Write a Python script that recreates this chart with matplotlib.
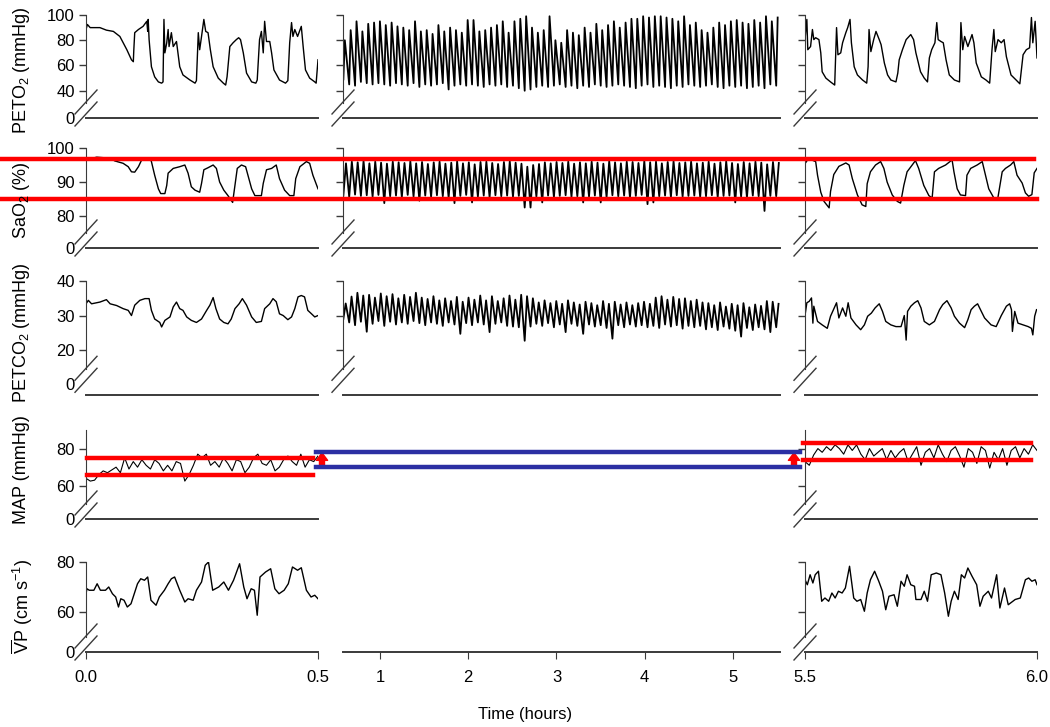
import numpy as np
import matplotlib.pyplot as plt
from matplotlib import transforms
from matplotlib.lines import Line2D
from matplotlib.patches import FancyArrowPatch

plt.rcParams['font.family'] = ['Liberation Sans', 'DejaVu Sans']
plt.rcParams['mathtext.default'] = 'regular'

# ---------------- data (hours, units) ----------------
peto2_left_t = [0.000, 0.003, 0.009, 0.030, 0.044, 0.059, 0.073, 0.088, 0.098, 0.102, 0.103, 0.105, 0.113,
                0.123, 0.131, 0.133, 0.134, 0.136, 0.141, 0.148, 0.156, 0.163, 0.166, 0.168, 0.170, 0.174,
                0.177, 0.179, 0.184, 0.188, 0.195, 0.202, 0.209, 0.224, 0.235, 0.238, 0.242, 0.245, 0.249,
                0.254, 0.258, 0.263, 0.268, 0.274, 0.285, 0.296, 0.301, 0.304, 0.310, 0.317, 0.324, 0.329,
                0.333, 0.339, 0.346, 0.357, 0.366, 0.369, 0.374, 0.378, 0.382, 0.385, 0.389, 0.396, 0.400,
                0.405, 0.417, 0.430, 0.435, 0.439, 0.443, 0.446, 0.450, 0.456, 0.464, 0.468, 0.473, 0.482,
                0.493, 0.496, 0.500]
peto2_left_v = [88.5, 92.5, 90, 90, 88, 87, 83, 72.5, 64.5, 63, 72, 86, 88.5,
                91, 95, 87, 96.5, 80.5, 59, 51, 47, 46, 47, 96.5, 70, 78,
                88.5, 75, 86, 75, 79, 59, 52.5, 48.5, 46, 48, 86, 72.5, 83,
                96.5, 87, 86, 72.5, 59, 50, 46, 44.5, 51, 75, 78, 80.5, 82,
                80.5, 70, 54, 47, 46, 48.5, 80.5, 87, 70, 95, 79, 79, 70,
                56.5, 48.5, 46, 48, 78, 94, 83, 88.5, 83, 91, 75, 56.5, 50,
                47, 46, 64.5]

peto2_right_t = [5.500, 5.504, 5.506, 5.512, 5.516, 5.519, 5.523, 5.530, 5.534, 5.537, 5.545, 5.555, 5.564,
                 5.566, 5.568, 5.571, 5.577, 5.581, 5.588, 5.592, 5.597, 5.600, 5.606, 5.613, 5.624, 5.633,
                 5.636, 5.638, 5.642, 5.648, 5.653, 5.660, 5.664, 5.671, 5.678, 5.685, 5.696, 5.700, 5.703,
                 5.710, 5.718, 5.728, 5.734, 5.739, 5.749, 5.757, 5.764, 5.768, 5.773, 5.780, 5.784, 5.787,
                 5.793, 5.798, 5.804, 5.811, 5.822, 5.833, 5.836, 5.840, 5.844, 5.851, 5.860, 5.864, 5.869,
                 5.880, 5.890, 5.898, 5.903, 5.907, 5.910, 5.916, 5.923, 5.929, 5.934, 5.944, 5.955, 5.963,
                 5.970, 5.977, 5.984, 5.988, 5.991, 5.996, 6.000]
peto2_right_v = [80.5, 96.5, 72.5, 75, 88.5, 80.5, 82, 80.5, 70, 55, 50, 47, 44.5,
                 67, 90, 68.5, 70, 78, 86, 90, 96.5, 78, 59, 52.5, 48.5, 46,
                 59, 88.5, 71, 80.5, 87, 80.5, 76.5, 62, 52.5, 48.5, 47, 54, 64.5,
                 72.5, 80.5, 84.5, 80.5, 70, 55, 50, 47, 66, 72.5, 78, 94, 80.5,
                 79, 78, 64.5, 52.5, 48.5, 47, 94, 72.5, 83, 75, 84.5, 78, 62,
                 51, 48.5, 46, 72.5, 88.5, 71, 80.5, 78, 80.5, 67, 52.5, 48.5, 45.5,
                 68.5, 72.5, 74, 98, 78, 95, 66]

# middle section: cycle troughs / peaks
peto2_mid_hi = [80, 88, 95, 87, 93, 94, 95, 92, 94, 91,
                90, 88, 95, 87, 88, 85, 92, 87, 90, 88,
                86, 96, 96, 87, 88, 90, 92, 95, 86, 95,
                97, 99, 90, 86, 88, 99, 80, 78, 88, 86,
                84, 90, 86, 93, 88, 92, 95, 90, 94, 97,
                97, 99, 98, 99, 99, 98, 97, 95, 99, 92,
                94, 88, 86, 90, 94, 92, 95, 96, 94, 93,
                96, 94, 99, 95, 98]
peto2_mid_lo = [49, 45, 44, 47, 46, 45, 46, 45, 44, 46,
                45, 44, 46, 43, 45, 44, 45, 46, 41, 44,
                45, 44, 45, 44, 43, 45, 44, 45, 43, 44,
                42, 40, 41, 43, 44, 43, 44, 45, 43, 44,
                42, 44, 43, 45, 44, 43, 44, 45, 44, 43,
                42, 44, 45, 43, 44, 43, 42, 44, 43, 45,
                44, 43, 44, 45, 43, 42, 44, 43, 44, 42,
                43, 44, 42, 45, 44]

sao2_left_t = [0.000, 0.023, 0.052, 0.062, 0.080, 0.091, 0.098, 0.105, 0.113, 0.120, 0.131, 0.138, 0.141,
               0.148, 0.156, 0.161, 0.170, 0.174, 0.177, 0.188, 0.202, 0.213, 0.220, 0.227, 0.235, 0.245,
               0.249, 0.254, 0.263, 0.274, 0.281, 0.288, 0.297, 0.306, 0.316, 0.321, 0.326, 0.335, 0.344,
               0.349, 0.357, 0.364, 0.378, 0.382, 0.389, 0.400, 0.410, 0.417, 0.428, 0.439, 0.448, 0.452,
               0.461, 0.475, 0.482, 0.489, 0.500]
sao2_left_v = [96.5, 97.3, 97, 96.2, 95.5, 94.5, 93, 92.9, 94.5, 96.5, 96.5, 97, 96,
               92, 88, 86.6, 86.6, 89, 92.6, 94, 94.5, 95, 92.6, 88.6, 87.6, 87,
               89.6, 93.6, 94.2, 95, 94, 90, 87.6, 86, 84, 89, 94, 95, 94.5,
               92, 88, 86, 86, 89.6, 93.6, 94, 95, 91, 87.6, 86, 86, 91,
               94.5, 96, 95.5, 92, 88]

sao2_right_t = [5.500, 5.505, 5.516, 5.523, 5.527, 5.534, 5.541, 5.552, 5.555, 5.562, 5.573, 5.588, 5.595,
                5.602, 5.613, 5.623, 5.631, 5.634, 5.641, 5.652, 5.663, 5.670, 5.677, 5.688, 5.699, 5.706,
                5.713, 5.720, 5.731, 5.738, 5.745, 5.756, 5.767, 5.774, 5.779, 5.788, 5.803, 5.817, 5.821,
                5.828, 5.835, 5.846, 5.849, 5.857, 5.871, 5.882, 5.889, 5.896, 5.907, 5.915, 5.925, 5.932,
                5.943, 5.950, 5.957, 5.968, 5.975, 5.982, 5.989, 5.994, 6.000]
sao2_right_v = [95.4, 96.4, 96.4, 96, 92, 87, 84.3, 82.4, 87.2, 92.2, 94.6, 95.6, 95,
                91, 86.2, 83.3, 82.8, 89.5, 93, 95, 96, 94, 90, 86.2, 84.3, 83.8,
                89, 93, 95, 96.3, 94, 89, 86, 85.3, 93, 94, 95, 96.5, 93,
                88, 86.2, 86, 92, 94, 95, 96, 92, 88, 85.3, 84.8, 93, 94,
                95, 96, 92, 89.7, 86.8, 85.8, 86.3, 92.7, 94]

sao2_mid_hi = [95.5, 96.0, 95.8, 96.2, 95.5, 96.0, 95.7, 95.4, 96.0, 95.8,
               95.6, 96.1, 95.5, 95.9, 95.3, 95.8, 96.0, 95.4, 95.7, 96.1,
               95.5, 95.8, 95.2, 95.9, 96.0, 95.6, 95.3, 95.9, 96.1, 95.7,
               95.4, 94.5, 95.0, 95.3, 95.8, 95.5, 95.9, 95.6, 96.0, 95.4,
               95.8, 95.5, 96.0, 95.7, 95.4, 96.1, 95.8, 95.5, 96.0, 95.9,
               95.6, 96.2, 95.8, 96.0, 95.5, 95.9, 96.1, 95.6, 95.8, 96.0,
               95.5, 95.7, 96.0, 95.4, 95.8, 96.1, 95.6, 95.3, 95.9, 95.5,
               96.0, 95.7, 95.2, 95.9, 95.6]
sao2_mid_lo = [86.0, 85.6, 86.3, 85.9, 86.1, 85.7, 86.2, 83.8, 85.8, 86.0,
               85.5, 86.2, 85.7, 84.5, 86.0, 85.6, 86.1, 85.8, 85.4, 83.8,
               85.9, 86.2, 84.0, 85.7, 86.0, 85.5, 86.1, 85.8, 86.0, 85.6,
               85.9, 82.5, 82.5, 85.7, 84.0, 86.0, 85.5, 85.9, 86.1, 85.6,
               85.8, 84.0, 85.7, 86.0, 84.0, 85.5, 86.1, 85.8, 86.0, 85.4,
               85.9, 86.2, 83.5, 84.0, 85.8, 86.0, 85.5, 86.1, 85.7, 85.9,
               86.0, 85.6, 85.8, 86.1, 85.5, 85.9, 86.0, 84.0, 85.7, 85.4,
               86.0, 85.8, 81.5, 85.9, 85.8]

petco2_left_t = [0.000, 0.005, 0.012, 0.030, 0.044, 0.052, 0.066, 0.080, 0.091, 0.098, 0.105, 0.116, 0.127,
                 0.136, 0.141, 0.148, 0.159, 0.163, 0.170, 0.181, 0.188, 0.195, 0.202, 0.209, 0.217, 0.227,
                 0.238, 0.249, 0.260, 0.267, 0.274, 0.280, 0.288, 0.297, 0.306, 0.313, 0.321, 0.330, 0.337,
                 0.346, 0.357, 0.367, 0.378, 0.385, 0.396, 0.403, 0.410, 0.417, 0.425, 0.435, 0.443, 0.450,
                 0.457, 0.464, 0.471, 0.478, 0.486, 0.493, 0.500]
petco2_left_v = [33.4, 34.4, 33.4, 33.9, 34.6, 33.4, 32.9, 32, 31.5, 30, 33, 34.4, 34.9,
                 34.9, 31.5, 29, 28, 26.7, 28.6, 29.6, 32.5, 33.9, 32, 31.5, 29.6, 28.6,
                 28, 29, 31.5, 33, 35.2, 32, 29, 28, 27.6, 29, 32, 33.4, 34.9,
                 33, 29.6, 28, 28.3, 32, 33.4, 34.9, 34, 30.5, 30, 28.8, 29.6, 32,
                 35.4, 35.8, 35.4, 31.5, 30.5, 29.6, 30]

petco2_right_t = [5.500, 5.504, 5.509, 5.514, 5.517, 5.519, 5.527, 5.537, 5.548, 5.555, 5.563, 5.568, 5.573,
                  5.581, 5.588, 5.593, 5.599, 5.610, 5.620, 5.628, 5.635, 5.643, 5.651, 5.660, 5.667, 5.674,
                  5.685, 5.696, 5.707, 5.714, 5.718, 5.721, 5.728, 5.736, 5.743, 5.750, 5.757, 5.768, 5.779,
                  5.790, 5.797, 5.806, 5.815, 5.822, 5.833, 5.844, 5.851, 5.858, 5.865, 5.872, 5.880, 5.887,
                  5.901, 5.912, 5.923, 5.934, 5.941, 5.945, 5.947, 5.952, 5.959, 5.970, 5.981, 5.988, 5.991,
                  5.995, 5.999]
petco2_right_v = [30, 33.7, 34.1, 35.1, 27.8, 32.7, 28.3, 27.3, 26.3, 29.8, 32.2, 33.7, 29.3,
                  32.2, 29.8, 33.7, 29.3, 27.3, 25.9, 27.3, 29.8, 30.7, 32.2, 33.4, 31.2, 28.3,
                  27.3, 26.8, 26.8, 30, 22.9, 31.2, 32.7, 33.7, 34.3, 32.2, 28.3, 27.3, 28.3,
                  31.7, 33.2, 34.3, 32.2, 29.8, 27.8, 26.5, 28.8, 31.7, 32.7, 33.4, 31.2, 29.3,
                  27.3, 26.8, 30, 32.7, 33.4, 31.7, 25.4, 31.2, 27.8, 27.3, 26.8, 26.3, 24.4,
                  29.8, 31.7]

petco2_mid_hi = [33.5, 35.5, 36.6, 35.8, 36.0, 35.2, 36.4, 35.6, 36.2, 35.0,
                 36.0, 35.4, 36.6, 35.2, 34.8, 35.6, 34.4, 35.0, 34.2, 35.4,
                 34.0, 35.2, 34.6, 35.8, 34.4, 35.6, 34.2, 35.0, 35.8, 34.6,
                 36.0, 35.6, 35.0, 33.8, 34.4, 33.6, 34.2, 33.4, 34.4, 33.8,
                 33.2, 34.0, 33.6, 33.0, 34.2, 33.4, 34.0, 33.2, 33.8, 33.0,
                 33.6, 34.0, 33.4, 35.2, 35.6, 34.6, 35.4, 34.8, 35.0, 34.2,
                 34.6, 33.8, 33.6, 33.0, 33.8, 32.6, 33.4, 33.0, 33.6, 32.4,
                 33.2, 32.8, 34.2, 34.0, 33.4]
petco2_mid_lo = [29.0, 28.0, 27.2, 28.2, 25.3, 27.6, 28.4, 27.0, 28.2, 27.4,
                 28.0, 27.6, 28.4, 27.8, 27.2, 28.0, 27.6, 27.0, 28.0, 27.4,
                 24.7, 27.8, 27.2, 28.0, 27.4, 25.2, 27.6, 28.0, 27.0, 26.8,
                 26.6, 22.7, 26.8, 27.6, 27.0, 27.8, 26.6, 27.4, 25.2, 27.6,
                 27.0, 24.7, 27.4, 26.8, 27.2, 26.4, 23.3, 27.2, 26.6, 27.4,
                 26.8, 27.2, 26.6, 27.0, 26.4, 27.4, 26.8, 27.2, 26.2, 27.0,
                 26.6, 27.0, 26.0, 26.6, 25.8, 26.8, 26.2, 25.6, 23.9, 26.4,
                 25.8, 26.6, 26.0, 25.2, 26.6]

map_left_v = [64, 62.5, 63, 66, 68, 67, 68.5, 70, 67, 75, 69, 73, 70, 74, 71, 69,
              74, 72, 68, 71, 68, 73, 72, 62.5, 66, 71, 77, 75, 77, 71, 73, 70,
              75, 72, 68, 74, 73, 67, 70, 75, 77, 72, 71, 74, 68, 70, 74, 76,
              73, 71, 77, 70, 74, 73, 76]
map_right_v = [73, 71, 76.5, 80, 78, 81, 79, 82, 80, 77, 82, 79, 82, 77, 74, 80,
               76, 78, 80, 74, 79, 75, 78, 80, 73, 77, 81, 71, 78, 80, 75, 82,
               77, 73, 79, 81, 76, 70, 80, 78, 72, 81, 79, 69.5, 78, 74, 80, 71,
               79, 81, 75, 80, 77, 82, 79]
map_left_range = [66, 75]
map_mid_range = [70, 78]
map_right_range = [74, 83]
sao2_limits = [85, 96.8]

vp_left_t = [0.000, 0.002, 0.007, 0.017, 0.024, 0.031, 0.042, 0.049, 0.057, 0.064, 0.070, 0.075, 0.082,
             0.089, 0.097, 0.104, 0.111, 0.118, 0.126, 0.133, 0.140, 0.151, 0.158, 0.169, 0.177, 0.184,
             0.191, 0.202, 0.213, 0.220, 0.231, 0.238, 0.249, 0.257, 0.264, 0.273, 0.286, 0.297, 0.307,
             0.318, 0.331, 0.340, 0.347, 0.356, 0.363, 0.369, 0.375, 0.387, 0.398, 0.407, 0.416, 0.427,
             0.436, 0.445, 0.456, 0.464, 0.475, 0.485, 0.493, 0.500]
vp_left_v = [67.3, 69.3, 68.7, 68.7, 71.3, 68.7, 68.7, 70, 67.3, 66, 62, 65.3, 64.7,
             62, 63.3, 67.3, 71.3, 73.3, 72.7, 74, 64.7, 62.7, 66, 68.7, 71.3, 73.3,
             74, 68.7, 64, 65.3, 64.7, 68.7, 72, 78.7, 80, 68.7, 70, 72, 68.7,
             72.7, 79.3, 70, 65.3, 69.3, 68.7, 58.7, 74, 76, 77.3, 69.3, 67.3, 68.7,
             71.3, 78, 76.7, 77.7, 68.7, 66, 66.7, 65.3]

vp_right_t = [5.500, 5.505, 5.511, 5.517, 5.522, 5.529, 5.536, 5.543, 5.551, 5.558, 5.565, 5.572, 5.580,
              5.587, 5.596, 5.605, 5.612, 5.620, 5.628, 5.634, 5.641, 5.650, 5.659, 5.667, 5.674, 5.681,
              5.692, 5.699, 5.707, 5.714, 5.720, 5.728, 5.736, 5.739, 5.750, 5.757, 5.764, 5.772, 5.783,
              5.793, 5.801, 5.809, 5.815, 5.822, 5.830, 5.837, 5.844, 5.851, 5.860, 5.870, 5.877, 5.884,
              5.895, 5.902, 5.913, 5.920, 5.930, 5.938, 5.953, 5.964, 5.975, 5.982, 5.989, 5.996, 6.000]
vp_right_v = [72.9, 70.9, 74.9, 71.6, 74.9, 76.3, 64.3, 65.6, 64.3, 67.6, 65.6, 68.3, 67.6,
              69.6, 78.3, 65.6, 64.3, 65, 60.3, 67.6, 72.9, 76.3, 72.3, 68.3, 60.9, 66.3,
              66.9, 62.3, 72.3, 70.3, 74.9, 70.9, 70.3, 65, 65, 68.3, 64.3, 74.9, 75.6,
              74.9, 67.6, 58.3, 64.3, 68.3, 65, 74.9, 73.6, 77.6, 74.3, 70.9, 62.3, 66.3,
              68.3, 65.6, 74.9, 61.6, 69.6, 62.9, 65, 65.6, 72.9, 73.6, 72.3, 72.9, 70.9]

row_labels = ['PETO$_2$ (mmHg)', 'SaO$_2$ (%)', 'PETCO$_2$ (mmHg)', 'MAP (mmHg)',
              r'$\overline{V}$P (cm s$^{-1}$)']
row_ticks = [[40, 60, 80, 100], [80, 90, 100], [20, 30, 40], [60, 80], [60, 80]]
mid_xticks = [1, 2, 3, 4, 5]

# ---------------- layout (pixels) ----------------
W, H = 1050, 727
fig = plt.figure(figsize=(W / 100, H / 100), dpi=100)

cols = [(86, 318, (0, 0.5)), (343, 780, (0.581, 5.533)), (805, 1037, (5.5, 6.0))]
# ytop px, ybottom px, ylim, zero-label position, spine top
rows = [(15, 118, (18.4, 100), 18.4, 100),
        (148, 248, (70.6, 100), 70.6, 100),
        (281, 395, (7.0, 40), 10.1, 40),
        (430, 519, (42.1, 90), 42.1, 90),
        (562, 652, (44, 80), 44, 80)]
GREY = '#3a3a3a'
FS = 12


def make_axes(c, r):
    x0, x1, xl = cols[c]
    yt, yb, yl, zero, top = rows[r]
    ax = fig.add_axes([x0 / W, 1 - yb / H, (x1 - x0) / W, (yb - yt) / H])
    ax.set_facecolor('none')
    ax.set_xlim(*xl)
    ax.set_ylim(*yl)
    for s in ['top', 'right']:
        ax.spines[s].set_visible(False)
    pxu = (yb - yt) / (yl[1] - yl[0])
    ax.spines['left'].set_bounds(zero + 15 / pxu, top)
    ax.spines['left'].set_color(GREY)
    ax.spines['bottom'].set_color(GREY)
    ax.spines['bottom'].set_linewidth(1.4)
    ax.set_yticks([zero] + row_ticks[r])
    ax.set_yticklabels(['0'] + [str(v) for v in row_ticks[r]] if c == 0 else [])
    ax.yaxis.get_major_ticks()[0].tick1line.set_visible(False)
    ax.tick_params(axis='y', direction='out', length=5, width=1, color=GREY, labelsize=FS, pad=3)
    ax.tick_params(axis='x', bottom=False, labelbottom=False)
    # axis break marks
    xs = x0
    yz = H - (yb - (zero - yl[0]) * pxu)
    for off in (4, 16):
        yc = yz + off
        fig.add_artist(Line2D([(xs - 11) / W, (xs + 11) / W],
                              [(yc - 12) / H, (yc + 12) / H],
                              color=GREY, lw=1.0))
    return ax


def cycles(lo, hi, t0, t1, rise):
    n = len(lo)
    tt = np.linspace(t0, t1, n)
    step = (t1 - t0) / (n - 1)
    t = np.ravel(np.column_stack([tt, tt + rise * step]))
    v = np.ravel(np.column_stack([lo, hi]))
    return t, v


axes = {}
for r in range(5):
    for c in range(3):
        if c == 1 and r >= 3:
            continue
        axes[(r, c)] = make_axes(c, r)

lw = 1.0
lw_mid = 1.3
# PETO2
axes[(0, 0)].plot(peto2_left_t, peto2_left_v, color='k', lw=lw)
axes[(0, 2)].plot(peto2_right_t, peto2_right_v, color='k', lw=lw)
t, v = cycles(peto2_mid_lo, peto2_mid_hi, 0.585, 5.49, 0.25)
axes[(0, 1)].plot(t, v, color='k', lw=lw_mid)
# SaO2
axes[(1, 0)].plot(sao2_left_t, sao2_left_v, color='k', lw=lw)
axes[(1, 2)].plot(sao2_right_t, sao2_right_v, color='k', lw=lw)
t, v = cycles(sao2_mid_lo, sao2_mid_hi, 0.585, 5.49, 0.45)
axes[(1, 1)].plot(t, v, color='k', lw=lw_mid)
# PETCO2
axes[(2, 0)].plot(petco2_left_t, petco2_left_v, color='k', lw=lw)
axes[(2, 2)].plot(petco2_right_t, petco2_right_v, color='k', lw=lw)
t, v = cycles(petco2_mid_lo, petco2_mid_hi, 0.585, 5.49, 0.4)
axes[(2, 1)].plot(t, v, color='k', lw=lw_mid)
# MAP
axes[(3, 0)].plot(np.linspace(0, 0.5, len(map_left_v)), map_left_v, color='k', lw=0.8)
axes[(3, 2)].plot(np.linspace(5.5, 6.0, len(map_right_v)), map_right_v, color='k', lw=0.8)
# VP
axes[(4, 0)].plot(vp_left_t, vp_left_v, color='k', lw=lw)
axes[(4, 2)].plot(vp_right_t, vp_right_v, color='k', lw=lw)

# middle bottom axis only carries the hour ticks
axm = fig.add_axes([cols[1][0] / W, 1 - rows[4][1] / H, (cols[1][1] - cols[1][0]) / W, (rows[4][1] - rows[4][0]) / H])
axm.set_facecolor('none')
axm.set_xlim(*cols[1][2])
for s in ['top', 'right', 'left']:
    axm.spines[s].set_visible(False)
axm.spines['bottom'].set_color(GREY)
axm.spines['bottom'].set_linewidth(1.4)
axm.set_yticks([])
axm.set_xticks(mid_xticks)
axm.tick_params(axis='x', direction='out', length=5, color=GREY, labelsize=FS, pad=8)

for c, ticks in [(0, [0.0, 0.5]), (2, [5.5, 6.0])]:
    ax = axes[(4, c)]
    ax.set_xticks(ticks)
    ax.set_xticklabels(['%.1f' % v for v in ticks])
    ax.tick_params(axis='x', bottom=True, labelbottom=True, direction='out', length=5,
                   color=GREY, labelsize=FS, pad=8)

# SaO2 reference band (across all panels)
tr = transforms.blended_transform_factory(fig.transFigure, axes[(1, 0)].transData)
for lim, xe in zip(sao2_limits, [1037, 1034]):
    fig.add_artist(Line2D([0, xe / W], [lim, lim], transform=tr, color='#ff0000', lw=3.2))

# MAP ranges
trl = transforms.blended_transform_factory(fig.transFigure, axes[(3, 0)].transData)
for v in map_left_range:
    fig.add_artist(Line2D([87 / W, 313 / W], [v, v], transform=trl, color='#ff0000', lw=3.2))
for v in map_mid_range:
    fig.add_artist(Line2D([316 / W, 800 / W], [v, v], transform=trl, color='#2b2fa3', lw=3.2))
trr = transforms.blended_transform_factory(fig.transFigure, axes[(3, 2)].transData)
for v in map_right_range:
    fig.add_artist(Line2D([803 / W, 1031 / W], [v, v], transform=trr, color='#ff0000', lw=3.2))
for xa in (322, 794):
    fig.add_artist(FancyArrowPatch((xa / W, map_mid_range[0] + 0.5), (xa / W, map_mid_range[1] - 0.3),
                                   transform=trl,
                                   arrowstyle='simple,head_width=0.9,head_length=0.6,tail_width=0.4',
                                   mutation_scale=9, color='#ff0000', shrinkA=0, shrinkB=0))

# labels
label_y = [70, 200, 333, 470, 607]
for lab, y in zip(row_labels, label_y):
    fig.text(22 / W, 1 - y / H, lab, rotation=90, ha='center', va='center', fontsize=13)
fig.text(525 / W, 1 - 715 / H, 'Time (hours)', ha='center', va='center', fontsize=12)

fig.savefig('out.png', dpi=100)
